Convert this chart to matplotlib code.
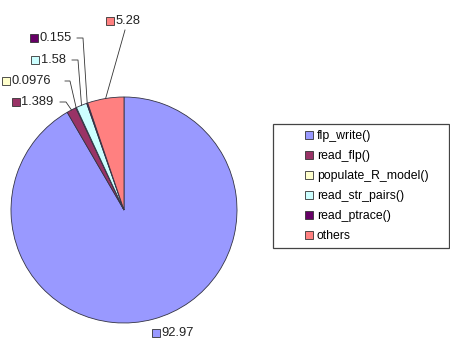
import matplotlib.pyplot as plt
import numpy as np
from matplotlib.lines import Line2D
from matplotlib.patches import Rectangle

plt.rcParams['font.family'] = ['Liberation Sans', 'DejaVu Sans']

names = ['flp_write()', 'read_flp()', 'populate_R_model()', 'read_str_pairs()',
         'read_ptrace()', 'others']
values = [92.97, 1.389, 0.0976, 1.58, 0.155, 5.28]
value_labels = ['92.97', '1.389', '0.0976', '1.58', '0.155', '5.28']
colors = ['#9999ff', '#993366', '#ffffcc', '#ccffff', '#660066', '#ff8080']

W, H = 450, 341
fig = plt.figure(figsize=(W / 100, H / 100), dpi=100)


def fp(x, y):
    # pixel position (top-left origin) -> figure fraction
    return x / W, 1 - y / H


# pie axes: centre (124, 210), radius 113 px
cx, cy, r = 124, 210, 113
x0, y0 = fp(cx - r, cy + r)
ax = fig.add_axes([x0, y0, 2 * r / W, 2 * r / H])
wedges, _ = ax.pie(values, colors=colors, startangle=90, counterclock=False,
                   wedgeprops=dict(edgecolor='#333344', linewidth=0.6))
ax.set_xlim(-1, 1)
ax.set_ylim(-1, 1)

# label layout: (square x, text y, leader start points in px)
label_layout = [
    (155.5, 333, []),
    (16, 102, [(60, 102), (66, 102)]),
    (6, 81, [(65, 81), (70, 81)]),
    (35, 60, [(72, 60), (78, 60)]),
    (34, 38, [(77, 38), (83, 38)]),
    (110, 21, [(125, 30)]),
]

to_fig = fig.transFigure.inverted()
for w, lab, col, (sx, ty, pts) in zip(wedges, value_labels, colors, label_layout):
    mid = np.deg2rad((w.theta1 + w.theta2) / 2)
    edge = to_fig.transform(ax.transData.transform((np.cos(mid), np.sin(mid))))
    fig.add_artist(Line2D([fp(sx, ty)[0]], [fp(sx, ty)[1]], marker='s',
                          markersize=5.5, markerfacecolor=col,
                          markeredgecolor='#333333', markeredgewidth=0.6,
                          linestyle='none'))
    tx, tyf = fp(sx + 5.5, ty)
    fig.text(tx, tyf, lab, fontsize=9.3, va='center', ha='left', color='#222222')
    if pts:
        xs = [fp(px, py)[0] for px, py in pts] + [edge[0]]
        ys = [fp(px, py)[1] for px, py in pts] + [edge[1]]
        fig.add_artist(Line2D(xs, ys, color='#333333', linewidth=0.6))

# legend box
bx, by = fp(273, 248)
fig.add_artist(Rectangle((bx, by), (449 - 273) / W, (248 - 124) / H,
                         transform=fig.transFigure, fill=False,
                         edgecolor='#444444', linewidth=0.9))
handles = [Line2D([], [], marker='s', markersize=5.5, markerfacecolor=c,
                  markeredgecolor='#333333', markeredgewidth=0.6,
                  linestyle='none') for c in colors]
lx, ly = fp(299, 186)
fig.legend(handles, names, loc='center left', bbox_to_anchor=(lx, ly),
           frameon=False, fontsize=8.8, handlelength=0.6, handletextpad=0.35,
           labelspacing=0.65, borderpad=0)

fig.savefig('out.png', dpi=100)
